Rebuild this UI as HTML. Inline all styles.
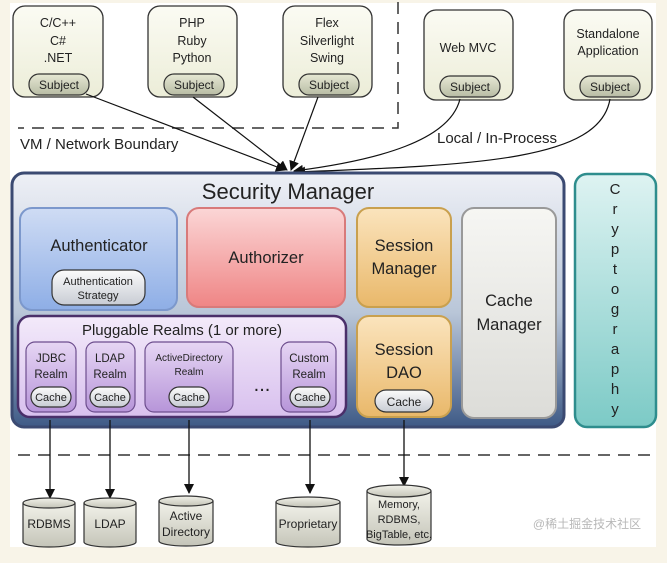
<!DOCTYPE html>
<html><head><meta charset="utf-8"><style>
html,body{margin:0;padding:0;background:#f8f4e8;}
svg{display:block;font-family:"Liberation Sans",Arial,sans-serif;}
</style></head><body>
<svg width="667" height="563" viewBox="0 0 667 563" xmlns="http://www.w3.org/2000/svg">
<defs>
<linearGradient id="top" x1="0" y1="0" x2="0" y2="1"><stop offset="0" stop-color="#fbfbf3"/><stop offset="1" stop-color="#ecedd8"/></linearGradient>
<linearGradient id="subj" x1="0" y1="0" x2="0" y2="1"><stop offset="0" stop-color="#e6e8d4"/><stop offset="1" stop-color="#b8bca4"/></linearGradient>
<linearGradient id="sm" x1="0" y1="0" x2="0" y2="1"><stop offset="0" stop-color="#eef0f6"/><stop offset="0.55" stop-color="#b9c6d8"/><stop offset="1" stop-color="#3e5a86"/></linearGradient>
<linearGradient id="auth" x1="0" y1="0" x2="0" y2="1"><stop offset="0" stop-color="#cfdcf4"/><stop offset="1" stop-color="#8eaee6"/></linearGradient>
<linearGradient id="authz" x1="0" y1="0" x2="0" y2="1"><stop offset="0" stop-color="#fbd6d6"/><stop offset="1" stop-color="#ef8585"/></linearGradient>
<linearGradient id="sess" x1="0" y1="0" x2="0" y2="1"><stop offset="0" stop-color="#fbe4bd"/><stop offset="1" stop-color="#e9b86a"/></linearGradient>
<linearGradient id="cache" x1="0" y1="0" x2="0" y2="1"><stop offset="0" stop-color="#f6f6f3"/><stop offset="1" stop-color="#dcdcd8"/></linearGradient>
<linearGradient id="plug" x1="0" y1="0" x2="0" y2="1"><stop offset="0" stop-color="#f3eafa"/><stop offset="1" stop-color="#d8c0ee"/></linearGradient>
<linearGradient id="realm" x1="0" y1="0" x2="0" y2="1"><stop offset="0" stop-color="#e6d6f4"/><stop offset="1" stop-color="#b795d9"/></linearGradient>
<linearGradient id="crypt" x1="0" y1="0" x2="0" y2="1"><stop offset="0" stop-color="#def3f2"/><stop offset="1" stop-color="#7ccac6"/></linearGradient>
<linearGradient id="pill" x1="0" y1="0" x2="0" y2="1"><stop offset="0" stop-color="#fbfbfb"/><stop offset="1" stop-color="#c8ccd4"/></linearGradient>
<linearGradient id="cyl" x1="0" y1="0" x2="0" y2="1"><stop offset="0" stop-color="#f2f2ea"/><stop offset="1" stop-color="#c4c4b8"/></linearGradient>
<marker id="ar" markerWidth="10" markerHeight="10" refX="9" refY="5" orient="auto" markerUnits="userSpaceOnUse"><path d="M0,0 L10,5 L0,10 z" fill="#111"/></marker>
</defs>
<rect x="10" y="3" width="646" height="544" fill="#fff"/>

<g stroke="#333" stroke-width="1.3">
<rect x="13" y="6" width="90" height="91" rx="12" fill="url(#top)"/>
<rect x="148" y="6" width="89" height="91" rx="12" fill="url(#top)"/>
<rect x="283" y="6" width="89" height="91" rx="12" fill="url(#top)"/>
<rect x="424" y="10" width="89" height="90" rx="12" fill="url(#top)"/>
<rect x="564" y="10" width="88" height="90" rx="12" fill="url(#top)"/>
</g>
<g font-size="12.5" text-anchor="middle" fill="#222">
<text x="58" y="27">C/C++</text><text x="58" y="45">C#</text><text x="58" y="62">.NET</text>
<text x="192" y="27">PHP</text><text x="192" y="45">Ruby</text><text x="192" y="62">Python</text>
<text x="327" y="27">Flex</text><text x="327" y="45">Silverlight</text><text x="327" y="62">Swing</text>
<text x="468" y="52">Web MVC</text>
<text x="608" y="38">Standalone</text><text x="608" y="55">Application</text>
</g>
<g stroke="#333" stroke-width="1.2" fill="url(#subj)">
<rect x="29" y="74" width="60" height="21" rx="10"/>
<rect x="164" y="74" width="60" height="21" rx="10"/>
<rect x="299" y="74" width="60" height="21" rx="10"/>
<rect x="440" y="76" width="60" height="21" rx="10"/>
<rect x="580" y="76" width="60" height="21" rx="10"/>
</g>
<g font-size="12" text-anchor="middle" fill="#222">
<text x="59" y="89">Subject</text><text x="194" y="89">Subject</text><text x="329" y="89">Subject</text>
<text x="470" y="91">Subject</text><text x="610" y="91">Subject</text>
</g>

<g stroke="#333" stroke-width="1.5" stroke-dasharray="12,8" fill="none">
<path d="M398 2 V128 H18"/>
<path d="M18 455 H656"/>
</g>
<text x="20" y="149" font-size="15" fill="#222">VM / Network Boundary</text>
<text x="437" y="143" font-size="15" fill="#222">Local / In-Process</text>

<g stroke="#111" stroke-width="1.2" fill="none" marker-end="url(#ar)">
<path d="M86 94 L285 170"/>
<path d="M193 97 L287 170"/>
<path d="M318 97 L291 170"/>
<path d="M460 99 C450 140 380 160 294 171"/>
<path d="M610 99 C600 160 480 165 296 172"/>
</g>

<rect x="12" y="173" width="552" height="254" rx="12" fill="url(#sm)" stroke="#3b4a72" stroke-width="3"/>
<text x="288" y="199" font-size="22" text-anchor="middle" fill="#222">Security Manager</text>
<rect x="20" y="208" width="157" height="102" rx="12" fill="url(#auth)" stroke="#7c98cc" stroke-width="2"/>
<text x="99" y="251" font-size="16.5" text-anchor="middle" fill="#222">Authenticator</text>
<rect x="52" y="270" width="93" height="35" rx="12" fill="url(#pill)" stroke="#333" stroke-width="1.2"/>
<text x="98" y="285" font-size="11" text-anchor="middle" fill="#222">Authentication</text>
<text x="98" y="299" font-size="11" text-anchor="middle" fill="#222">Strategy</text>
<rect x="187" y="208" width="158" height="99" rx="12" fill="url(#authz)" stroke="#d87a7a" stroke-width="2"/>
<text x="266" y="263" font-size="16.5" text-anchor="middle" fill="#222">Authorizer</text>
<rect x="357" y="208" width="94" height="99" rx="12" fill="url(#sess)" stroke="#c9a04e" stroke-width="2"/>
<text x="404" y="251" font-size="16.5" text-anchor="middle" fill="#222">Session</text>
<text x="404" y="274" font-size="16.5" text-anchor="middle" fill="#222">Manager</text>
<rect x="462" y="208" width="94" height="210" rx="12" fill="url(#cache)" stroke="#999" stroke-width="2"/>
<text x="509" y="306" font-size="16.5" text-anchor="middle" fill="#222">Cache</text>
<text x="509" y="330" font-size="16.5" text-anchor="middle" fill="#222">Manager</text>
<rect x="357" y="316" width="94" height="101" rx="12" fill="url(#sess)" stroke="#c9a04e" stroke-width="2"/>
<text x="404" y="355" font-size="16.5" text-anchor="middle" fill="#222">Session</text>
<text x="404" y="378" font-size="16.5" text-anchor="middle" fill="#222">DAO</text>
<rect x="375" y="390" width="58" height="22" rx="11" fill="url(#pill)" stroke="#333" stroke-width="1.2"/>
<text x="404" y="406" font-size="12" text-anchor="middle" fill="#222">Cache</text>

<rect x="18" y="316" width="328" height="101" rx="12" fill="url(#plug)" stroke="#4a2f6a" stroke-width="2.5"/>
<text x="182" y="335" font-size="15" text-anchor="middle" fill="#222">Pluggable Realms (1 or more)</text>
<g fill="url(#realm)" stroke="#6d4e8e" stroke-width="1.2">
<rect x="26" y="342" width="50" height="70" rx="9"/>
<rect x="86" y="342" width="49" height="70" rx="9"/>
<rect x="145" y="342" width="88" height="70" rx="9"/>
<rect x="281" y="342" width="55" height="70" rx="9"/>
</g>
<g font-size="11.5" text-anchor="middle" fill="#222">
<text x="51" y="362">JDBC</text><text x="51" y="378">Realm</text>
<text x="110" y="362">LDAP</text><text x="110" y="378">Realm</text>
<text x="189" y="361" font-size="10">ActiveDirectory</text><text x="189" y="375" font-size="10">Realm</text>
<text x="309" y="362">Custom</text><text x="309" y="378">Realm</text>
</g>
<text x="262" y="391" font-size="20" text-anchor="middle" fill="#222">...</text>
<g fill="url(#pill)" stroke="#333" stroke-width="1.2">
<rect x="31" y="387" width="40" height="20" rx="10"/>
<rect x="90" y="387" width="40" height="20" rx="10"/>
<rect x="169" y="387" width="40" height="20" rx="10"/>
<rect x="290" y="387" width="40" height="20" rx="10"/>
</g>
<g font-size="11" text-anchor="middle" fill="#222">
<text x="51" y="401">Cache</text><text x="110" y="401">Cache</text><text x="189" y="401">Cache</text><text x="310" y="401">Cache</text>
</g>

<rect x="575" y="174" width="81" height="253" rx="12" fill="url(#crypt)" stroke="#2e8d8d" stroke-width="2.5"/>
<g font-size="15" text-anchor="middle" fill="#222">
<text x="615" y="194">C</text><text x="615" y="214">r</text><text x="615" y="234">y</text><text x="615" y="254">p</text><text x="615" y="274">t</text><text x="615" y="294">o</text><text x="615" y="314">g</text><text x="615" y="334">r</text><text x="615" y="354">a</text><text x="615" y="374">p</text><text x="615" y="394">h</text><text x="615" y="414">y</text>
</g>

<g stroke="#111" stroke-width="1.3" marker-end="url(#ar)">
<line x1="50" y1="420" x2="50" y2="498"/>
<line x1="110" y1="420" x2="110" y2="498"/>
<line x1="189" y1="420" x2="189" y2="493"/>
<line x1="310" y1="420" x2="310" y2="493"/>
<line x1="404" y1="420" x2="404" y2="486"/>
</g>

<g stroke="#333" stroke-width="1.2" fill="url(#cyl)">
<path d="M23 503 V542 A26 5 0 0 0 75 542 V503"/><ellipse cx="49" cy="503" rx="26" ry="5"/>
<path d="M84 503 V542 A26 5 0 0 0 136 542 V503"/><ellipse cx="110" cy="503" rx="26" ry="5"/>
<path d="M159 501 V541 A27 5 0 0 0 213 541 V501"/><ellipse cx="186" cy="501" rx="27" ry="5"/>
<path d="M276 502 V542 A32 5 0 0 0 340 542 V502"/><ellipse cx="308" cy="502" rx="32" ry="5"/>
<path d="M367 491 V539 A32 6 0 0 0 431 539 V491"/><ellipse cx="399" cy="491" rx="32" ry="6"/>
</g>
<g font-size="12" text-anchor="middle" fill="#222">
<text x="49" y="528">RDBMS</text>
<text x="110" y="528">LDAP</text>
<text x="186" y="520">Active</text><text x="186" y="536">Directory</text>
<text x="308" y="528">Proprietary</text>
<text x="399" y="508" font-size="11">Memory,</text><text x="399" y="523" font-size="11">RDBMS,</text><text x="399" y="538" font-size="11">BigTable, etc.</text>
</g>
<text x="587" y="528" font-size="12" text-anchor="middle" fill="#b8b8b8" font-family="'Liberation Sans','Noto Sans CJK SC',sans-serif">@稀土掘金技术社区</text>
</svg>
</body></html>
